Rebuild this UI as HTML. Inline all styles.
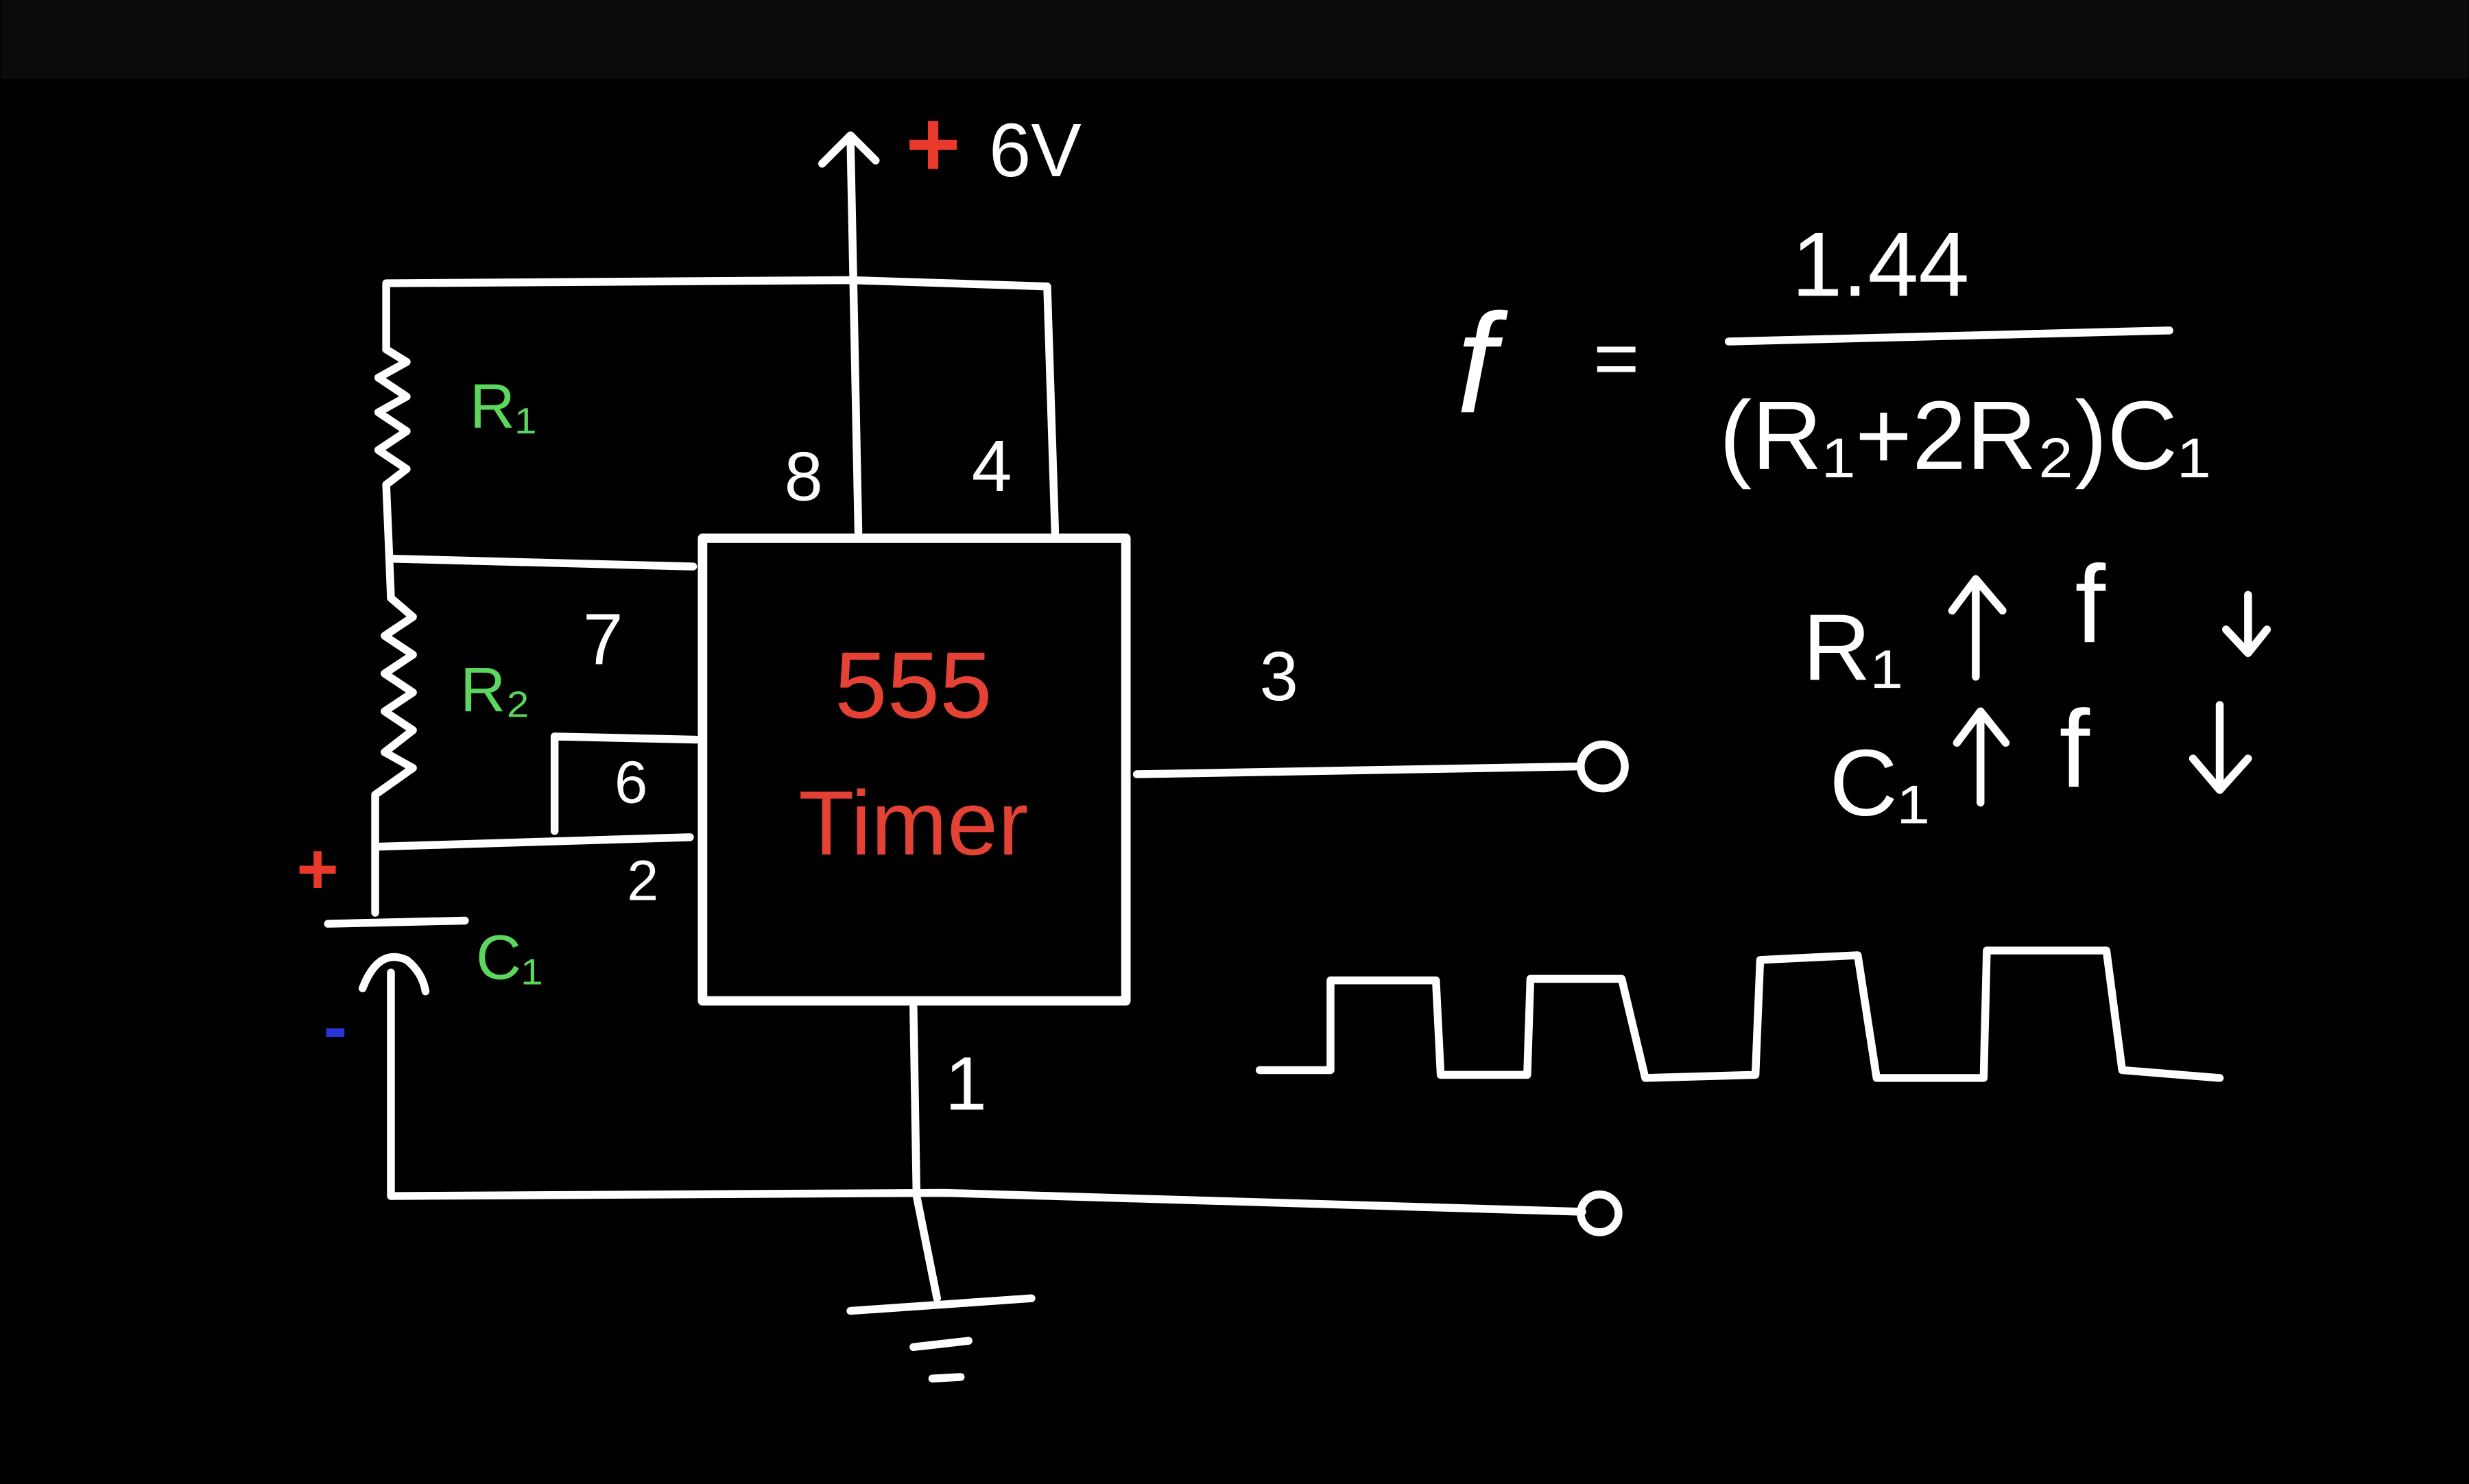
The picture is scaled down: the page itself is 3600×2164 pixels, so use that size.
<!DOCTYPE html>
<html><head><style>
html,body{margin:0;padding:0;background:#000;}
svg{display:block;}
text{font-family:"Liberation Sans",sans-serif;}
</style></head><body>
<svg width="3600" height="2164" viewBox="0 0 1568 943" xmlns="http://www.w3.org/2000/svg">
<rect x="0" y="0" width="1568" height="943" fill="#000"/>
<rect x="0" y="0" width="1568" height="50" fill="#0b0b0b"/>
<g fill="none" stroke="#fff" stroke-width="5" stroke-linecap="round" stroke-linejoin="round">
<path d="M540 88 L545 338"/>
<path d="M522 104 L540 86 L556 102"/>
<path d="M245 222 L245 180 L540 178 L665 182 L670 338"/>
<path d="M245 222 L258 230 L240 240 L258 252 L240 262 L258 274 L240 286 L258 298 L245 308 L247 355"/>
<path d="M247 355 L440 360"/>
<path d="M247 355 L248 380 L262 392 L244 404 L262 416 L244 428 L262 440 L244 452 L262 464 L244 478 L262 488 L238 505 L238 580"/>
<path d="M240 538 L438 532"/>
<path d="M352 528 L352 468 L442 470"/>
<path d="M208 587 L295 585"/>
<path d="M230 628 Q240 602 258 610 Q268 618 270 630"/>
<path d="M248 618 L248 760 L600 758 L1005 770"/>
<circle cx="1016" cy="771" r="12"/>
<rect x="446" y="342" width="269" height="294" stroke-width="6"/>
<path d="M580 640 L582 760 L595 825"/>
<path d="M540 833 L655 825"/>
<path d="M580 856 L615 852"/>
<path d="M592 876 L610 875"/>
<path d="M722 492 L1004 487"/>
<circle cx="1018" cy="487" r="14"/>
<path d="M800 680 L845 680 L845 623 L912 623 L915 683 L970 683 L972 622 L1030 622 L1045 685 L1115 683 L1118 610 L1180 607 L1192 685 L1260 685 L1262 604 L1338 604 L1348 680 L1410 685"/>
<path d="M1098 217 L1378 210"/>
<path d="M1255 430 L1255 370 M1240 388 L1255 368 L1272 388"/>
<path d="M1428 378 L1428 413 M1414 400 L1428 415 L1440 400"/>
<path d="M1258 510 L1258 455 M1243 472 L1258 452 L1274 472"/>
<path d="M1410 448 L1410 500 M1393 482 L1410 502 L1428 482"/>
</g>
<g fill="#fff" font-size="46">
<text x="628" y="112" font-size="48">6V</text>
<text x="498" y="318" font-size="44">8</text>
<text x="617" y="312" font-size="46">4</text>
<text x="370" y="422" font-size="46">7</text>
<text x="390" y="510" font-size="38">6</text>
<text x="398" y="572" font-size="36">2</text>
<text x="800" y="445" font-size="44">3</text>
<text x="600" y="705" font-size="48">1</text>
<text x="925" y="262" font-size="90" font-style="italic">f</text>
<text x="1012" y="245" font-size="50">=</text>
<text x="1138" y="188" font-size="58">1.44</text>
<text x="1092" y="298" font-size="62">(R₁+2R₂)C₁</text>
<text x="1145" y="432" font-size="60">R₁</text>
<text x="1318" y="408" font-size="70">f</text>
<text x="1162" y="518" font-size="60">C₁</text>
<text x="1308" y="500" font-size="70">f</text>
</g>
<text x="575" y="112" fill="#e8392b" font-size="60" font-weight="bold">+</text>
<text x="188" y="568" fill="#e8392b" font-size="46" font-weight="bold">+</text>
<text x="205" y="668" fill="#2a34d8" font-size="46" font-weight="bold">-</text>
<text x="580" y="456" fill="#e34234" font-size="60" text-anchor="middle">555</text>
<text x="580" y="543" fill="#e34234" font-size="58" text-anchor="middle">Timer</text>
<text x="298" y="272" fill="#5cd65c" font-size="40">R₁</text>
<text x="292" y="452" fill="#5cd65c" font-size="40">R₂</text>
<text x="302" y="622" fill="#5cd65c" font-size="40">C₁</text>
</svg>
</body></html>
